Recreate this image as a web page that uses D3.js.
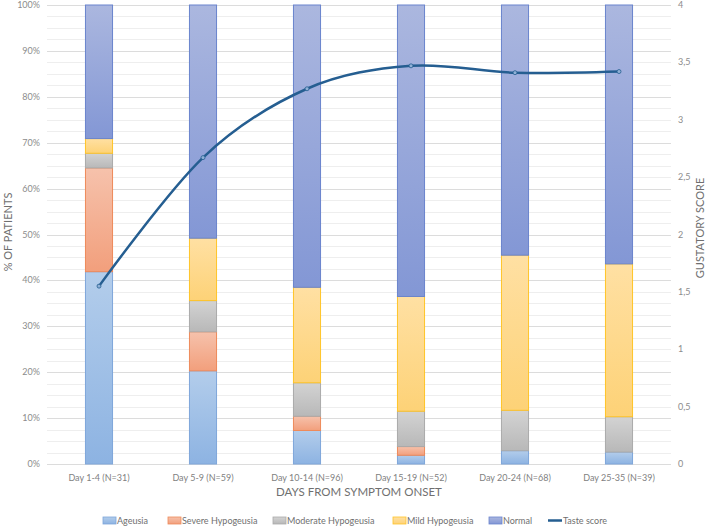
<!DOCTYPE html>
<html>
<head>
<meta charset="utf-8">
<script src="https://cdn.jsdelivr.net/npm/d3@7"></script>
<style>
  body { margin: 0; background: #fff; }
  svg text { font-family: Lato, "Open Sans", sans-serif; }
</style>
</head>
<body>
<svg id="chart" width="709" height="529"></svg>
<script>
// categories along the x axis
const categories = ["Day 1-4 (N=31)", "Day 5-9 (N=59)", "Day 10-14 (N=96)",
  "Day 15-19 (N=52)", "Day 20-24 (N=68)", "Day 25-35 (N=39)"];

// % of patients per category
const ageusia  = [41.9, 20.3, 7.3, 1.9, 2.9, 2.6];
const severe   = [22.6, 8.5, 3.1, 1.9, 0, 0];
const moderate = [3.2, 6.8, 7.3, 7.7, 8.8, 7.7];
const mild     = [3.2, 13.6, 20.8, 25.0, 33.8, 33.3];
const normal   = [29.1, 50.8, 61.5, 63.5, 54.5, 56.4];

// gustatory score (right axis)
const tasteScore = [1.55, 2.67, 3.27, 3.47, 3.41, 3.42];

const leftTicks = [0, 10, 20, 30, 40, 50, 60, 70, 80, 90, 100];
const rightTicks = [0, 0.5, 1, 1.5, 2, 2.5, 3, 3.5, 4];

const seriesNames = ["Ageusia", "Severe Hypogeusia", "Moderate Hypogeusia", "Mild Hypogeusia", "Normal"];
const seriesValues = [ageusia, severe, moderate, mild, normal];

// top color, bottom color, border
const styles = [
  ["#b3cdeb", "#8db3e2", "#7ea6da"],
  ["#f6c2ac", "#f29f7c", "#ee8a5a"],
  ["#d3d3d3", "#b8b8b8", "#aaaaaa"],
  ["#ffe0a3", "#fdd277", "#ffc428"],
  ["#abb7df", "#8397d5", "#6a84cd"]
];

const svg = d3.select("#chart");
const margin = { left: 47, right: 38, top: 5, bottom: 65 };
const W = 709, H = 529;

const x = d3.scaleBand().domain(categories).range([margin.left, W - margin.right]).paddingInner(0.73).paddingOuter(0.365);
const y = d3.scaleLinear().domain([0, 100]).range([H - margin.bottom, margin.top]);
const y2 = d3.scaleLinear().domain([0, 4]).range([H - margin.bottom, margin.top]);

// gradients
const defs = svg.append("defs");
styles.forEach((s, i) => {
  const g = defs.append("linearGradient").attr("id", "grad" + i)
    .attr("x1", 0).attr("y1", 0).attr("x2", 0).attr("y2", 1);
  g.append("stop").attr("offset", "0%").attr("stop-color", s[0]);
  g.append("stop").attr("offset", "100%").attr("stop-color", s[1]);
});

// grid: minor every 2.5%, major every 10%
const minor = d3.range(0, 100.1, 2.5).filter(v => v % 10 !== 0);
svg.append("g").selectAll("line").data(minor).join("line")
  .attr("x1", margin.left).attr("x2", W - margin.right)
  .attr("y1", d => Math.round(y(d)) + 0.5).attr("y2", d => Math.round(y(d)) + 0.5)
  .attr("stroke", "#eeeeee").attr("stroke-width", 1);
svg.append("g").selectAll("line").data(leftTicks).join("line")
  .attr("x1", margin.left).attr("x2", W - margin.right)
  .attr("y1", d => Math.round(y(d)) + 0.5).attr("y2", d => Math.round(y(d)) + 0.5)
  .attr("stroke", "#dcdcdc").attr("stroke-width", 1.2);

// left axis labels
svg.append("g").selectAll("text").data(leftTicks).join("text")
  .attr("x", 40).attr("y", d => y(d) + 3)
  .attr("text-anchor", "end").attr("font-size", 9).attr("fill", "#8c8c8c")
  .text(d => d + "%");

// right axis labels
svg.append("g").selectAll("text").data(rightTicks).join("text")
  .attr("x", 678).attr("y", d => y2(d) + 3)
  .attr("font-size", 9).attr("fill", "#8c8c8c")
  .text(d => String(d).replace(".", ","));

// stacked bars
const rows = categories.map((c, i) => {
  const r = { cat: c };
  seriesNames.forEach((n, j) => r[n] = seriesValues[j][i]);
  return r;
});
const stacked = d3.stack().keys(seriesNames)(rows);

stacked.forEach((layer, i) => {
  svg.append("g").selectAll("rect").data(layer.filter(d => d[1] - d[0] > 0)).join("rect")
    .attr("x", d => x(d.data.cat) + 0.5)
    .attr("width", x.bandwidth() - 1)
    .attr("y", d => y(d[1]))
    .attr("height", d => y(d[0]) - y(d[1]))
    .attr("fill", "url(#grad" + i + ")")
    .attr("stroke", styles[i][2]).attr("stroke-width", 1);
});

// category labels
svg.append("g").selectAll("text").data(categories).join("text")
  .attr("x", d => x(d) + x.bandwidth() / 2).attr("y", 481)
  .attr("text-anchor", "middle").attr("font-size", 9).attr("fill", "#7f7f7f")
  .text(d => d);

// taste score line
const cx = i => x(categories[i]) + x.bandwidth() / 2;
const line = d3.line().x((d, i) => cx(i)).y(d => y2(d)).curve(d3.curveCardinal.tension(0));
svg.append("path").datum(tasteScore).attr("d", line)
  .attr("fill", "none").attr("stroke", "#255e91").attr("stroke-width", 2.5);
svg.append("g").selectAll("circle").data(tasteScore).join("circle")
  .attr("cx", (d, i) => cx(i)).attr("cy", d => y2(d)).attr("r", 2)
  .attr("fill", "#8fb0d6").attr("stroke", "#255e91").attr("stroke-width", 0.8);

// axis titles
svg.append("text").attr("transform", "translate(12,232) rotate(-90)")
  .attr("text-anchor", "middle").attr("font-size", 11).attr("fill", "#6f6f6f")
  .text("% OF PATIENTS");
svg.append("text").attr("transform", "translate(704,228) rotate(-90)")
  .attr("text-anchor", "middle").attr("font-size", 11).attr("fill", "#6f6f6f")
  .text("GUSTATORY SCORE");
svg.append("text").attr("x", 359).attr("y", 496)
  .attr("text-anchor", "middle").attr("font-size", 11.5).attr("fill", "#6f6f6f")
  .text("DAYS FROM SYMPTOM ONSET");

// legend
const legendX = [103, 168, 273, 393, 489];
const lg = svg.append("g");
seriesNames.forEach((n, i) => {
  lg.append("rect").attr("x", legendX[i]).attr("y", 517).attr("width", 13).attr("height", 7)
    .attr("fill", "url(#grad" + i + ")").attr("stroke", styles[i][2]).attr("stroke-width", 0.8);
  lg.append("text").attr("x", legendX[i] + 14).attr("y", 524)
    .attr("font-size", 9).attr("fill", "#6f6f6f").text(n);
});
lg.append("line").attr("x1", 548).attr("x2", 562).attr("y1", 520.5).attr("y2", 520.5)
  .attr("stroke", "#255e91").attr("stroke-width", 2.5);
lg.append("text").attr("x", 563).attr("y", 524)
  .attr("font-size", 9).attr("fill", "#6f6f6f").text("Taste score");
</script>
</body>
</html>
